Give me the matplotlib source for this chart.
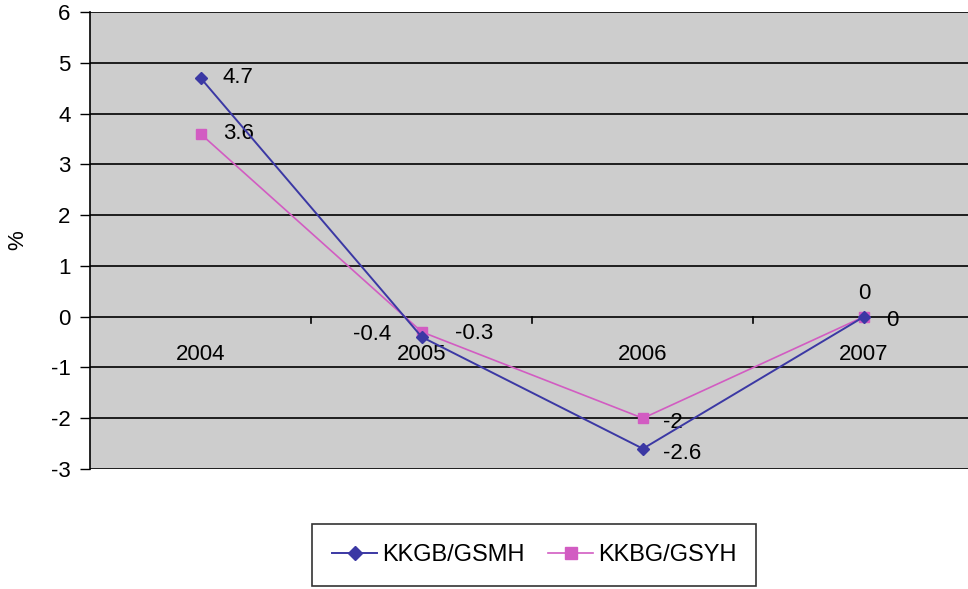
import matplotlib.pyplot as plt
import numpy as np

plt.rcParams['font.family'] = ['Liberation Sans', 'DejaVu Sans']
plt.rcParams['axes.unicode_minus'] = False

# Yearly change, percent
years = ['2004', '2005', '2006', '2007']
kkgb_gsmh = [4.7, -0.4, -2.6, 0]
kkbg_gsyh = [3.6, -0.3, -2, 0]

blue = '#3b38a4'
pink = '#d25cc2'
fs = 16

fig = plt.figure(figsize=(9.68, 5.89), dpi=100)
ax = fig.add_axes([0.093, 0.2037, 0.907, 0.776])
ax.set_facecolor('#cdcdcd')

x = np.arange(len(years))
ax.plot(x, kkgb_gsmh, color=blue, lw=1.4, marker='D', ms=6, zorder=4, label='KKGB/GSMH')
ax.plot(x, kkbg_gsyh, color=pink, lw=1.2, marker='s', ms=7, zorder=3, label='KKBG/GSYH')

ax.set_xlim(-0.5, 3.47)
ax.set_ylim(-3, 6)
ax.set_yticks(range(-3, 7))
ax.tick_params(axis='y', labelsize=fs, length=7, width=1, direction='out', pad=7)
ax.yaxis.grid(True, color='black', lw=1.2)
ax.set_axisbelow(True)
ax.set_xticks([])
for side in ['top', 'right', 'bottom']:
    ax.spines[side].set_visible(False)
ax.spines['left'].set_linewidth(1.2)
ax.set_ylabel('%', fontsize=fs, labelpad=16)

# category ticks sit on the zero line between years
for t in [0.5, 1.5, 2.5]:
    ax.plot([t, t], [0, -0.13], color='black', lw=1.2, clip_on=False, zorder=2)
for xi, yr in zip(x, years):
    ax.text(xi, -0.74, yr, ha='center', va='center', fontsize=fs)

# point labels
ax.text(0.1, 4.7, '4.7', va='center', ha='left', fontsize=fs)
ax.text(0.1, 3.6, '3.6', va='center', ha='left', fontsize=fs)
ax.text(0.86, -0.36, '-0.4', va='center', ha='right', fontsize=fs)
ax.text(1.15, -0.33, '-0.3', va='center', ha='left', fontsize=fs)
ax.text(3.0, 0.45, '0', va='center', ha='center', fontsize=fs)
ax.text(3.1, -0.08, '0', va='center', ha='left', fontsize=fs)
ax.text(2.09, -2.7, '-2.6', va='center', ha='left', fontsize=fs)
ax.text(2.09, -2.09, '-2', va='center', ha='left', fontsize=fs)

leg = fig.legend(loc='center', bbox_to_anchor=(0.552, 0.057), ncol=2, fontsize=17,
                 frameon=True, fancybox=False, edgecolor='black', handlelength=1.9,
                 columnspacing=1.0, borderpad=0.85, handletextpad=0.2, borderaxespad=0,
                 markerscale=1.2)
leg.get_frame().set_linewidth(1.2)

fig.savefig('out.png', dpi=100)
